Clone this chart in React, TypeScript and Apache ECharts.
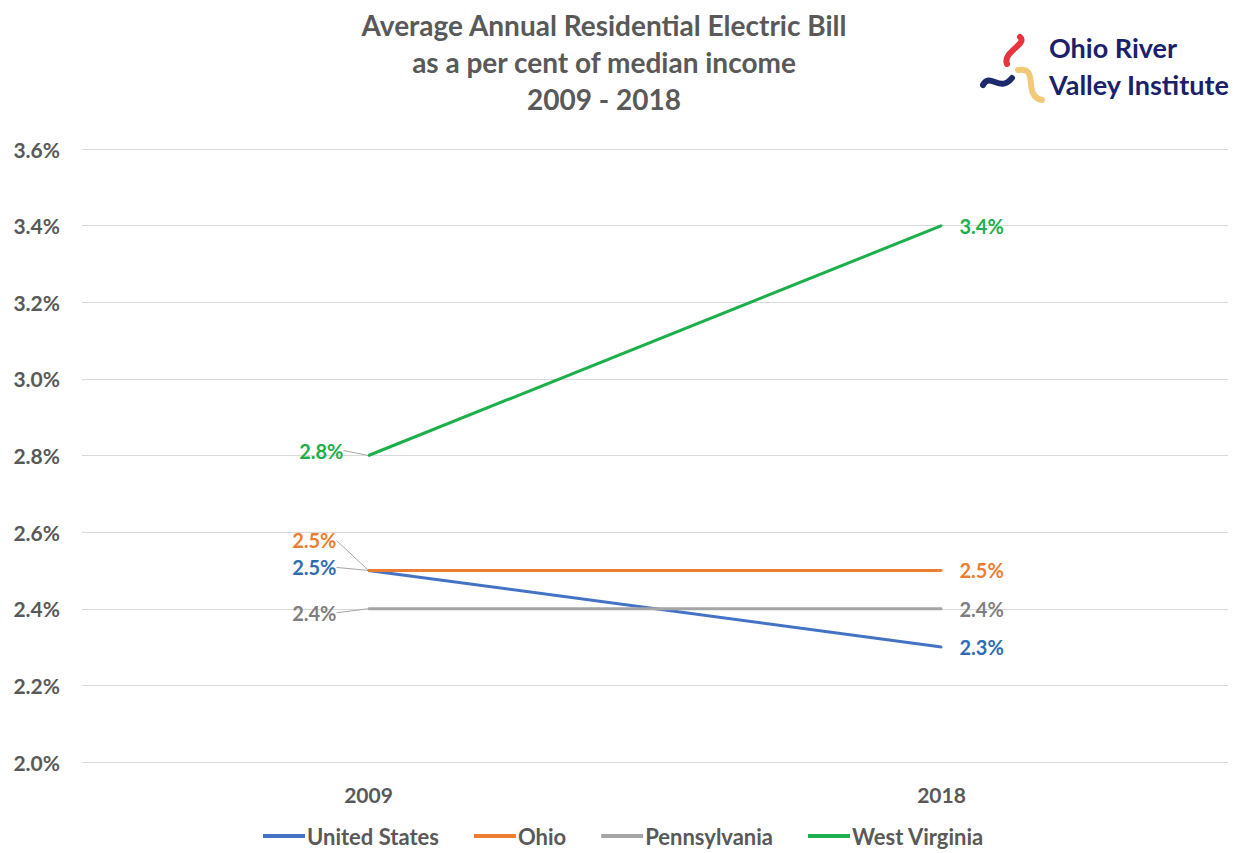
import React, { useEffect, useRef } from "react";
import * as echarts from "echarts";

const years = ["2009", "2018"];
const unitedStates = [2.5, 2.3];
const ohio = [2.5, 2.5];
const pennsylvania = [2.4, 2.4];
const westVirginia = [2.8, 3.4];
const yTicks = { min: 2.0, max: 3.6, interval: 0.2 };

const FONT = "Lato, 'Open Sans', sans-serif";

// label offsets at the 2009 point (dx, dy) per series
const leftShift: Record<string, [number, number]> = {
  "United States": [-17, -3],
  Ohio: [-17, -30],
  Pennsylvania: [-17, 4],
  "West Virginia": [-10, -5],
};

function mkSeries(name: string, data: number[], color: string, labelColor: string) {
  return {
    name,
    type: "line",
    data: data.map((v, i) => ({
      value: v,
      label: {
        show: true,
        position: i === 0 ? "left" : "right",
        distance: i === 0 ? 14 : 17,
      },
      labelLine: { show: i === 0 },
    })),
    symbol: "circle",
    symbolSize: 2,
    showSymbol: true,
    lineStyle: { color, width: 3 },
    itemStyle: { color },
    label: {
      show: true,
      color: labelColor,
      fontFamily: FONT,
      fontWeight: "bold",
      fontSize: 20,
      formatter: (p: any) => p.value.toFixed(1) + "%",
    },
    labelLine: { show: true, lineStyle: { color: "#a6a6a6", width: 1 }, smooth: false },
    labelLayout: (params: any) => {
      if (params.dataIndex === 0) {
        const s = leftShift[name];
        return { dx: s[0], dy: s[1] };
      }
      return {};
    },
    emphasis: { disabled: true },
  };
}

export default function App() {
  const ref = useRef<HTMLDivElement>(null);
  useEffect(() => {
    if (!ref.current) return;
    const chart = echarts.init(ref.current, undefined, { renderer: "svg" });
    chart.setOption({
      animation: false,
      backgroundColor: "#ffffff",
      grid: { left: 82, right: 13, top: 149, bottom: 91, containLabel: false },
      xAxis: {
        type: "category",
        data: years,
        boundaryGap: true,
        axisLine: { show: false },
        axisTick: { show: false },
        axisLabel: {
          margin: 22,
          color: "#595959",
          fontFamily: FONT,
          fontWeight: "bold",
          fontSize: 21,
        },
      },
      yAxis: {
        type: "value",
        min: yTicks.min,
        max: yTicks.max,
        interval: yTicks.interval,
        axisLine: { show: false },
        axisTick: { show: false },
        splitLine: { lineStyle: { color: "#d9d9d9", width: 1 } },
        axisLabel: {
          margin: 22,
          color: "#595959",
          fontFamily: FONT,
          fontWeight: "bold",
          fontSize: 21,
          formatter: (v: number) => v.toFixed(1) + "%",
        },
      },
      legend: {
        bottom: 1,
        left: 258,
        icon: "rect",
        itemWidth: 42,
        itemHeight: 4,
        itemGap: 35,
        textStyle: { color: "#595959", fontFamily: FONT, fontWeight: "bold", fontSize: 22, padding: [0, 0, 0, -3] },
        data: ["United States", "Ohio", "Pennsylvania", "West Virginia"],
      },
      series: [
        mkSeries("United States", unitedStates, "#4472C4", "#2E6DB4"),
        mkSeries("Ohio", ohio, "#ED7D31", "#ED7D31"),
        mkSeries("Pennsylvania", pennsylvania, "#A5A5A5", "#7F7F7F"),
        mkSeries("West Virginia", westVirginia, "#1DAF4B", "#1DAF4B"),
      ],
      graphic: [
        {
          type: "text",
          x: 604,
          y: 6,
          style: {
            text: "Average Annual Residential Electric Bill\nas a per cent of median income\n2009 - 2018",
            align: "center",
            fill: "#595959",
            font: `bold 28px ${FONT}`,
            lineHeight: 37,
          },
        },
        {
          type: "text",
          x: 1049,
          y: 29,
          style: {
            text: "Ohio River\nValley Institute",
            align: "left",
            fill: "#1c1f6b",
            font: `bold 27px ${FONT}`,
            lineHeight: 37,
          },
        },
        {
          type: "bezierCurve",
          shape: { x1: 1020, y1: 37, cpx1: 1028, cpy1: 44, cpx2: 1002, cpy2: 52, x2: 1007, y2: 64 },
          style: { stroke: "#e8343c", lineWidth: 6, fill: null, lineCap: "round" },
        },
        {
          type: "bezierCurve",
          shape: { x1: 983, y1: 85, cpx1: 990, cpy1: 72, cpx2: 1000, cpy2: 93, x2: 1012, y2: 78 },
          style: { stroke: "#1c2a6b", lineWidth: 6, fill: null, lineCap: "round" },
        },
        {
          type: "bezierCurve",
          shape: { x1: 1018, y1: 70, cpx1: 1040, cpy1: 66, cpx2: 1022, cpy2: 96, x2: 1042, y2: 100 },
          style: { stroke: "#f2c879", lineWidth: 6, fill: null, lineCap: "round" },
        },
      ],
    });
    return () => chart.dispose();
  }, []);
  return (
    <div
      ref={ref}
      style={{ position: "fixed", left: 0, top: 0, width: 1241, height: 853 }}
    />
  );
}
